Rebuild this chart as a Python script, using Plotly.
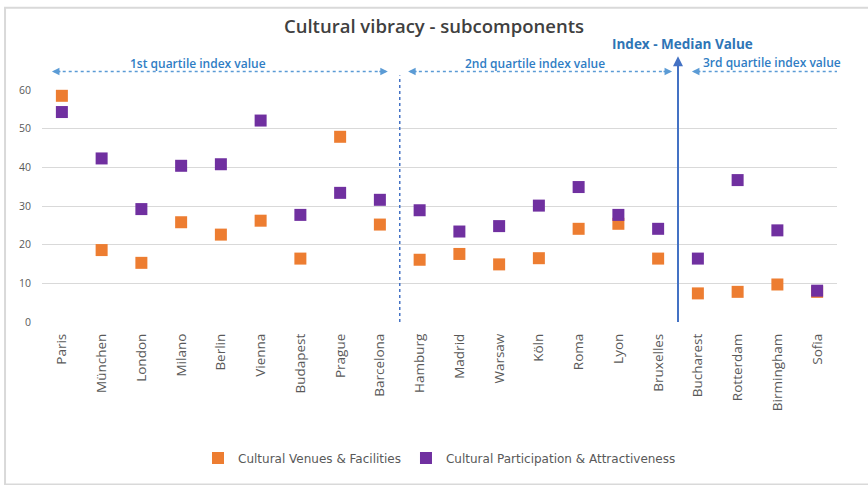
import plotly.graph_objects as go

# Cities ordered by overall index value
cities = ["Paris", "München", "London", "Milano", "Berlin", "Vienna", "Budapest",
          "Prague", "Barcelona", "Hamburg", "Madrid", "Warsaw", "Köln", "Roma",
          "Lyon", "Bruxelles", "Bucharest", "Rotterdam", "Birmingham", "Sofia"]

venues = [58.5, 18.6, 15.3, 25.8, 22.6, 26.2, 16.4, 47.9, 25.2, 16.1,
          17.6, 14.9, 16.5, 24.1, 25.4, 16.4, 7.4, 7.8, 9.7, 7.8]
participation = [54.3, 42.3, 29.2, 40.4, 40.8, 52.1, 27.7, 33.4, 31.6, 28.9,
                 23.4, 24.8, 30.1, 34.9, 27.7, 24.1, 16.4, 36.7, 23.7, 8.1]

y_ticks = [0, 10, 20, 30, 40, 50, 60]

# Group boundaries (between category positions)
q1_end = 8.5        # after Barcelona
median_pos = 15.5   # after Bruxelles

ORANGE = "#ED7D31"
PURPLE = "#7030A0"
BLUE = "#4472C4"
ARROW_BLUE = "#5B9BD5"
TXT_BLUE = "#2F7DC4"
FONT = "Open Sans"

fig = go.Figure()
fig.add_trace(go.Scatter(
    x=cities, y=venues, mode="markers", name="Cultural Venues & Facilities",
    marker=dict(symbol="square", size=12, color=ORANGE), cliponaxis=False))
fig.add_trace(go.Scatter(
    x=cities, y=participation, mode="markers",
    name="Cultural Participation & Attractiveness",
    marker=dict(symbol="square", size=12, color=PURPLE), cliponaxis=False))

shapes = []
# quartile divider (dotted), from the baseline up into the header band
shapes.append(dict(type="line", xref="x", yref="paper", x0=q1_end, x1=q1_end,
                   y0=0, y1=1.063, line=dict(color=BLUE, width=1.5, dash="dot")))
# median value line
shapes.append(dict(type="line", xref="x", yref="paper", x0=median_pos, x1=median_pos,
                   y0=0, y1=1.12, line=dict(color=BLUE, width=2)))

# dotted double-headed range arrows (paper y above the plot area)
ranges = [(-0.25, q1_end - 0.3), (q1_end + 0.21, median_pos - 0.15),
          (median_pos + 0.35, 19.7)]
arrow_y = 1.08
for a, b in ranges:
    shapes.append(dict(type="line", xref="x", yref="paper", x0=a + 0.12, x1=b - 0.12,
                       y0=arrow_y, y1=arrow_y,
                       line=dict(color=ARROW_BLUE, width=1.5, dash="dot")))

# chart frame
shapes.append(dict(type="rect", xref="paper", yref="paper",
                   x0=-0.0465, x1=1.05, y0=-0.7, y1=1.354,
                   line=dict(color="#D9D9D9", width=2), fillcolor="rgba(0,0,0,0)",
                   layer="below"))

annotations = []
# arrowheads at the ends of the range arrows
for a, b in ranges:
    for tip, off in ((a, 10), (b, -10)):
        annotations.append(dict(x=tip, y=arrow_y, xref="x", yref="paper",
                                ax=off, ay=0, text="", showarrow=True, arrowhead=2,
                                arrowsize=1, arrowwidth=1.5, arrowcolor=ARROW_BLUE))
# arrowhead on the median line
annotations.append(dict(x=median_pos, y=1.145, xref="x", yref="paper",
                        ax=0, ay=12, text="", showarrow=True, arrowhead=2,
                        arrowsize=1, arrowwidth=2, arrowcolor=BLUE))

labels = [("1st quartile index value", 3.42, 1.115),
          ("2nd quartile index value", 11.9, 1.115),
          ("3rd quartile index value", 17.86, 1.118)]
for txt, x, y in labels:
    annotations.append(dict(x=x, y=y, xref="x", yref="paper", text=txt,
                            showarrow=False, yanchor="middle", xanchor="center",
                            font=dict(family=FONT, size=12, color=TXT_BLUE,
                                      weight=600)))
annotations.append(dict(x=15.62, y=1.198, xref="x", yref="paper",
                        text="<b>Index - Median Value</b>", showarrow=False,
                        yanchor="middle", xanchor="center",
                        font=dict(family=FONT, size=13.5, color="#2E75B6")))

fig.update_layout(
    width=868, height=485,
    margin=dict(l=42, r=31, t=90, b=158),
    paper_bgcolor="white", plot_bgcolor="white",
    title=dict(text="Cultural vibracy - subcomponents", x=0.5, xanchor="center",
               y=1 - 27 / 485, yanchor="middle",
               font=dict(family=FONT, size=18.5, color="#404040", weight=600)),
    font=dict(family=FONT, color="#595959"),
    xaxis=dict(type="category", range=[-0.5, 19.5], tickangle=-90,
               tickfont=dict(family=FONT, size=13.5, color="#595959"),
               ticklabelstandoff=8,
               showgrid=False, showline=False, zeroline=False, ticks=""),
    yaxis=dict(range=[0, 60], tickvals=y_ticks, gridcolor="#D9D9D9", gridwidth=1,
               zeroline=False, showline=False, ticklabelstandoff=10,
               tickfont=dict(family=FONT, size=10.5, color="#595959")),
    legend=dict(orientation="h", x=0.5, xanchor="center", y=-0.586,
                yanchor="middle",
                font=dict(family="DejaVu Sans", size=12, color="#595959"),
                itemsizing="constant"),
    shapes=shapes, annotations=annotations,
)

fig.write_html("out.html")
